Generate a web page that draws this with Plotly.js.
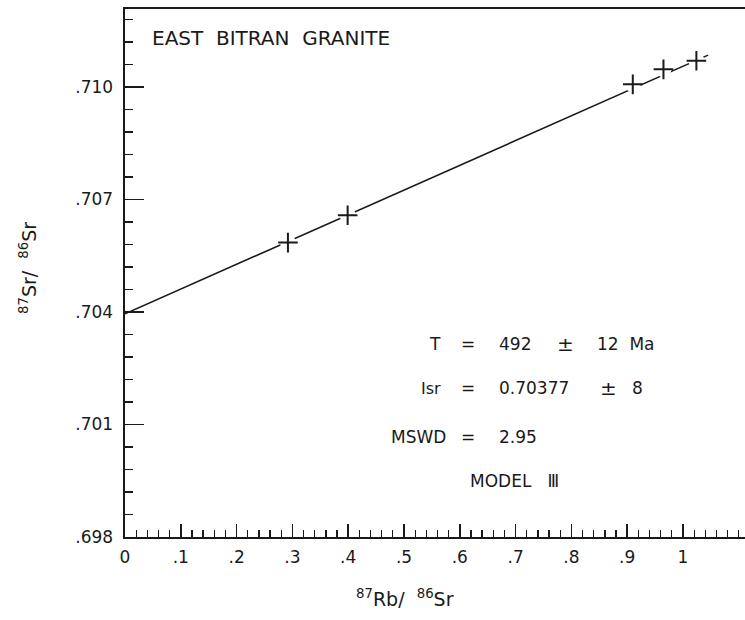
<!DOCTYPE html>
<html>
<head>
<meta charset="utf-8">
<script src="https://cdn.plot.ly/plotly-3.0.1.min.js"></script>
<style>html,body{margin:0;padding:0;background:#fff;}#chart{width:745px;height:620px;}</style>
</head>
<body>
<div id="chart"></div>
<script>
// Sample points
const rbSr = [0.292, 0.399, 0.910, 0.965, 1.024];
const srSr = [0.70585, 0.70658, 0.71007, 0.71047, 0.71070];
// Isochron line end points
const lineX = [0, 1.045];
const lineY = [0.70395, 0.71085];
// Tick values and labels
const xTickVals = [0, 0.1, 0.2, 0.3, 0.4, 0.5, 0.6, 0.7, 0.8, 0.9, 1.0];
const xTickText = ['0', '.1', '.2', '.3', '.4', '.5', '.6', '.7', '.8', '.9', '1'];
const yTickVals = [0.698, 0.701, 0.704, 0.707, 0.710];
const yTickText = ['.698', '.701', '.704', '.707', '.710'];

const INK = '#1a1a1a';
const FONT = 'DejaVu Sans, sans-serif';
const L = 125, T = 9, W = 620, H = 528;
const px = v => (v - L) / W;
const py = v => 1 - (v - T) / H;

function ann(text, x, y, anchor, size) {
  return {text: text, xref: 'paper', yref: 'paper', x: px(x), y: py(y),
    xanchor: anchor, yanchor: 'middle', showarrow: false,
    font: {family: FONT, size: size || 17, color: INK}};
}

const traces = [
  {x: lineX, y: lineY, mode: 'lines', line: {color: INK, width: 1.6}, hoverinfo: 'skip'},
  {x: rbSr, y: srSr, mode: 'markers', marker: {symbol: 'circle', size: 16, color: '#fff', line: {width: 0}}, hoverinfo: 'skip'},
  {x: rbSr, y: srSr, mode: 'markers', marker: {symbol: 'cross-thin', size: 14, line: {color: INK, width: 2}}}
];

const layout = {
  width: 745, height: 620,
  margin: {l: L, r: 745 - L - W, t: T, b: 620 - T - H},
  paper_bgcolor: '#fff', plot_bgcolor: '#fff',
  showlegend: false,
  font: {family: FONT, color: INK},
  xaxis: {
    range: [0, W / 558], showgrid: false, zeroline: false,
    showline: true, mirror: true, linecolor: INK, linewidth: 2,
    tickmode: 'array', tickvals: xTickVals, ticktext: xTickText,
    ticks: 'inside', ticklen: 13, tickwidth: 1.5, tickcolor: INK,
    minor: {dtick: 0.02, tick0: 0, ticks: 'inside', ticklen: 7, tickwidth: 1.3, tickcolor: INK, showgrid: false},
    tickfont: {family: FONT, size: 17, color: INK},
    ticklabelstandoff: 4
  },
  yaxis: {
    range: [0.698, 0.698 + H / 37.5 * 0.001], showgrid: false, zeroline: false,
    showline: true, mirror: false, linecolor: INK, linewidth: 2.5,
    tickmode: 'array', tickvals: yTickVals, ticktext: yTickText,
    ticks: 'inside', ticklen: 19, tickwidth: 1.5, tickcolor: INK,
    minor: {dtick: 0.0006, tick0: 0.698, ticks: 'inside', ticklen: 8, tickwidth: 1.5, tickcolor: INK, showgrid: false},
    tickfont: {family: FONT, size: 17, color: INK},
    ticklabelstandoff: 6
  },
  annotations: [
    ann('EAST  BITRAN  GRANITE', 150, 38, 'left', 20),
    ann('T', 443, 344, 'right'), ann('=', 468, 344, 'center'),
    ann('492', 497, 344, 'left'), ann('±', 565, 344, 'center', 20), ann('12\u00A0 Ma', 595, 344, 'left'),
    ann('Isr', 443, 388, 'right', 16), ann('=', 468, 388, 'center'),
    ann('0.70377', 497, 388, 'left'), ann('±', 608, 388, 'center', 20), ann('8', 630, 388, 'left'),
    ann('MSWD', 448, 437, 'right'), ann('=', 468, 437, 'center'), ann('2.95', 497, 437, 'left'),
    ann('MODEL\u00A0\u00A0 Ⅲ', 468, 481, 'left'),
    // axis titles
    {text: '<sup>87</sup>Rb/\u00A0\u00A0<sup>86</sup>Sr', xref: 'paper', yref: 'paper', x: px(405), y: py(598),
      xanchor: 'center', yanchor: 'middle', showarrow: false, font: {family: FONT, size: 19, color: INK}},
    {text: '<sup>87</sup>Sr/\u00A0\u00A0<sup>86</sup>Sr', xref: 'paper', yref: 'paper', x: px(28), y: py(268),
      xanchor: 'center', yanchor: 'middle', textangle: -90, showarrow: false, font: {family: FONT, size: 19, color: INK}}
  ]
};

Plotly.newPlot('chart', traces, layout, {displayModeBar: false, staticPlot: true});
</script>
</body>
</html>
